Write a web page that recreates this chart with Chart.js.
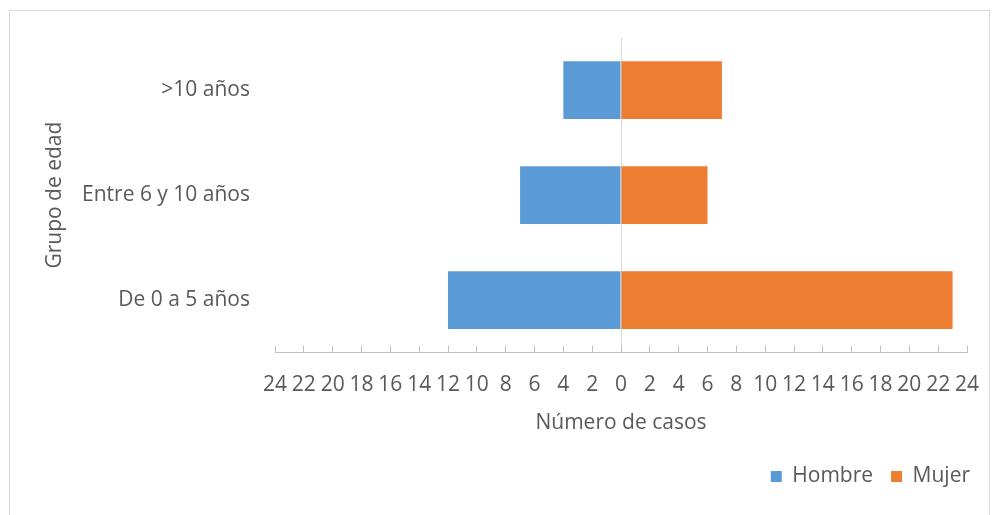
<!DOCTYPE html>
<html>
<head>
<meta charset="utf-8">
<script src="https://cdn.jsdelivr.net/npm/chart.js@4.4.1/dist/chart.umd.min.js"></script>
<style>
    html, body { margin: 0; padding: 0; background: #fff; }
    #frame {
        position: absolute; left: 9px; top: 10px;
        width: 981px; height: 510px;
        border: 1px solid #d9d9d9; box-sizing: border-box;
    }
    #wrap { position: absolute; left: 0; top: 0; width: 998px; height: 515px; }
</style>
</head>
<body>
<div id="frame"></div>
<div id="wrap"><canvas id="pyramidChart"></canvas></div>
<script>
// Chart data
const ageGroups = ['>10 años', 'Entre 6 y 10 años', 'De 0 a 5 años'];
const hombre = [4, 7, 12];
const mujer = [7, 6, 23];
const axisMin = -24;
const axisMax = 24;
const axisStep = 2;

const textColor = '#595959';
const fontFamily = '"Open Sans", Lato, sans-serif';
const fontSize = 21;

document.addEventListener('DOMContentLoaded', () => {
    initializeChart();
});

function initializeChart() {
    const ctx = document.getElementById('pyramidChart').getContext('2d');
    new Chart(ctx, {
        type: 'bar',
        data: {
            labels: ageGroups,
            datasets: [
                {
                    label: 'Hombre',
                    data: hombre.map(v => -v),
                    backgroundColor: '#5b9bd5',
                    borderWidth: 0,
                    barPercentage: 0.55,
                    categoryPercentage: 1
                },
                {
                    label: 'Mujer',
                    data: mujer,
                    backgroundColor: '#ed7d31',
                    borderWidth: 0,
                    barPercentage: 0.55,
                    categoryPercentage: 1
                }
            ]
        },
        options: {
            indexAxis: 'y',
            responsive: true,
            maintainAspectRatio: false,
            animation: false,
            layout: {
                padding: { left: 42, right: 10, top: 36, bottom: 18 }
            },
            scales: {
                x: {
                    stacked: true,
                    min: axisMin,
                    max: axisMax,
                    ticks: {
                        stepSize: axisStep,
                        color: textColor,
                        font: { family: fontFamily, size: fontSize },
                        padding: 27,
                        maxRotation: 0,
                        autoSkip: false,
                        callback: (value) => Math.abs(value)
                    },
                    grid: {
                        drawOnChartArea: true,
                        color: (c) => (c.tick && c.tick.value === 0 ? '#d9d9d9' : 'rgba(0,0,0,0)'),
                        tickColor: '#bfbfbf',
                        tickLength: -7,
                        lineWidth: 1
                    },
                    border: { display: true, color: '#bfbfbf' },
                    title: {
                        display: true,
                        text: 'Número de casos',
                        color: textColor,
                        font: { family: fontFamily, size: fontSize },
                        padding: { top: -14, bottom: 12 }
                    },
                    // keep the plot edge where the reference has it
                    afterFit: (scale) => {
                        scale.paddingLeft = 0;
                        scale.paddingRight = 31;
                    }
                },
                y: {
                    stacked: true,
                    ticks: {
                        color: textColor,
                        font: { family: fontFamily, size: fontSize },
                        padding: 25
                    },
                    grid: { display: false, drawTicks: false },
                    border: { display: false },
                    title: {
                        display: true,
                        text: 'Grupo de edad',
                        color: textColor,
                        font: { family: fontFamily, size: fontSize },
                        padding: 0
                    },
                    afterFit: (scale) => { scale.width = 233; }
                }
            },
            plugins: {
                legend: {
                    position: 'bottom',
                    align: 'end',
                    labels: {
                        color: textColor,
                        font: { family: fontFamily, size: fontSize },
                        boxWidth: 11,
                        boxHeight: 11,
                        padding: 18
                    }
                },
                tooltip: { enabled: false }
            }
        }
    });
}
</script>
</body>
</html>
